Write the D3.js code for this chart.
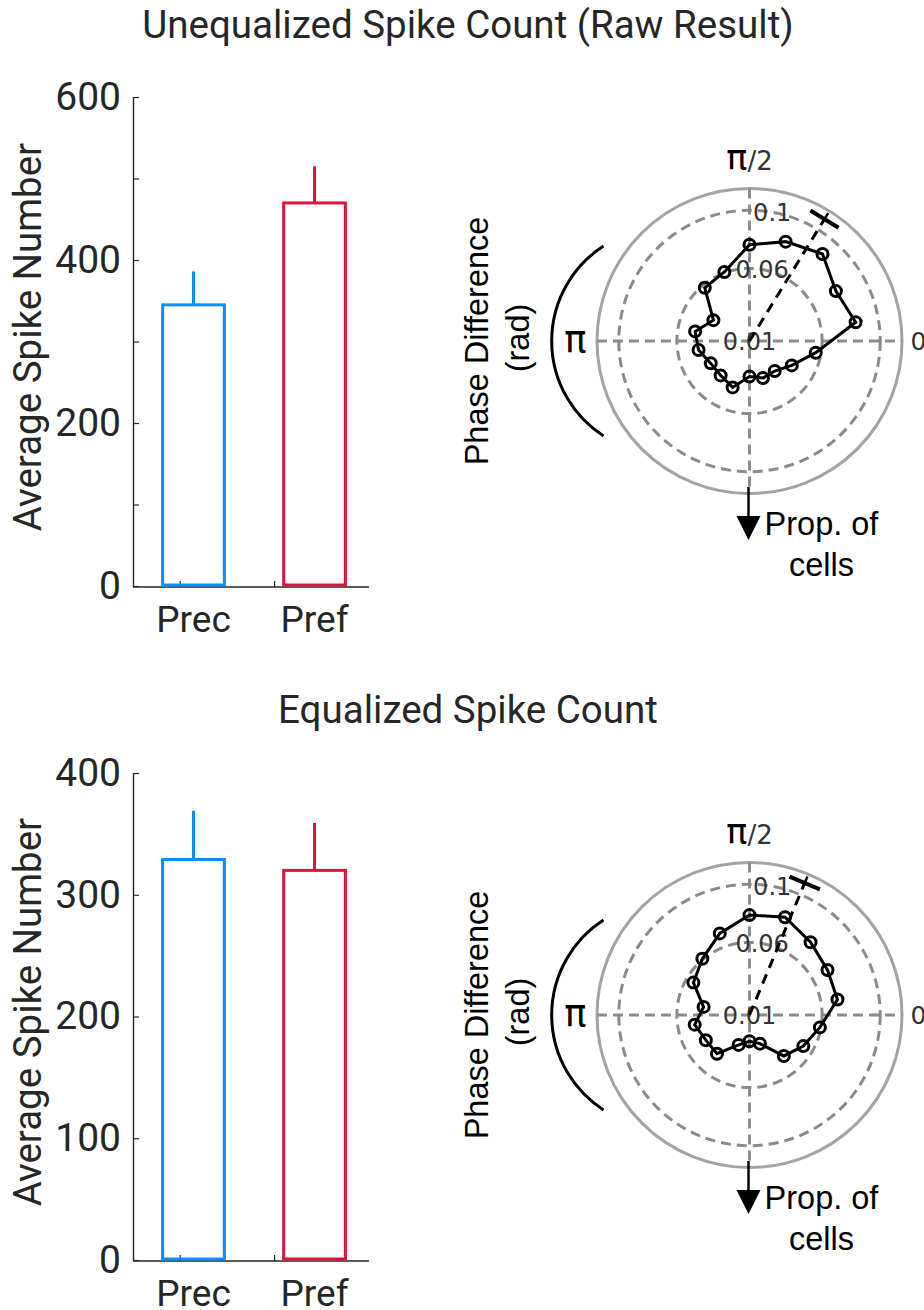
<!DOCTYPE html>
<html><head><meta charset="utf-8">
<script src="https://cdn.jsdelivr.net/npm/d3@7"></script>
<style>body{margin:0;background:#fff}</style></head>
<body><svg id="c" width="924" height="1310"></svg>
<script>
// ---------- data ----------
const titles = ["Unequalized Spike Count (Raw Result)", "Equalized Spike Count"];
const categories = ["Prec", "Pref"];
const colors = ["#0a8cff", "#dc143c"];
const meanTop = [345, 470];
const errTop = [386, 515];
const meanBottom = [329, 320];
const errBottom = [369, 359];
const yTicksTop = [0, 100, 200, 300, 400, 500, 600];
const yLabelsTop = [0, 200, 400, 600];
const yTicksBottom = [0, 100, 200, 300, 400];
const yLabelsBottom = [0, 100, 200, 300, 400];
const xTickPos = [0.89, 1.67];
const yTitle = "Average Spike Number";

const binCentersDeg = [10, 30, 50, 70, 90, 110, 130, 150, 170, 190, 210, 230, 250, 270, 290, 310, 330, 350];
const propTop = [0.0842, 0.0787, 0.0882, 0.0828, 0.0763, 0.0606, 0.0579, 0.0387, 0.0480, 0.0456, 0.0408, 0.0409, 0.0440, 0.0345, 0.0371, 0.0370, 0.0436, 0.0563];
const propBottom = [0.0715, 0.0720, 0.0754, 0.0816, 0.0788, 0.0698, 0.0605, 0.0546, 0.0421, 0.0483, 0.0447, 0.0448, 0.0319, 0.0281, 0.0310, 0.0468, 0.0528, 0.0592];
const meanDirTopDeg = 58.4;
const meanDirBottomDeg = 67.3;
const meanLen = 0.1085;
const rTicks = [0.01, 0.06, 0.1];
const rTickLabels = ["0.01", "0.06", "0.1"];
const rLim = [0.01, 0.115];

// ---------- drawing ----------
const svg = d3.select("#c");
const TXT = "#262626";

function title(text, y) {
  svg.append("text").attr("x", 468).attr("y", y).attr("dy", "0.35em")
    .attr("text-anchor", "middle").attr("font-family", "Roboto").attr("font-size", 38.5)
    .attr("fill", TXT).text(text);
}

function barChart(yTop, yBot, maxV, ticks, labels, means, errs, titleCY) {
  const g = svg.append("g");
  const x = d3.scaleLinear().domain([0.5, 2.45]).range([133, 369]);
  const y = d3.scaleLinear().domain([0, maxV]).range([yBot, yTop]);
  const ax = g.append("g").attr("transform", "translate(133,0)")
    .call(d3.axisLeft(y).tickValues(ticks).tickSizeInner(-6).tickSizeOuter(0).tickPadding(12)
      .tickFormat(d => labels.includes(d) ? d : ""));
  ax.select(".domain").attr("stroke", TXT).attr("stroke-width", 1.4);
  ax.selectAll(".tick line").attr("stroke", TXT).attr("stroke-width", 1.2);
  ax.selectAll(".tick text").attr("font-family", "Roboto").attr("font-size", 39).attr("fill", TXT);
  // x axis
  g.append("line").attr("x1", x(0.5)).attr("x2", x(2.45)).attr("y1", yBot + 1).attr("y2", yBot + 1)
    .attr("stroke", TXT).attr("stroke-width", 1.4);
  g.selectAll(".xt").data(xTickPos).join("line")
    .attr("x1", d => x(d)).attr("x2", d => x(d)).attr("y1", yBot + 1).attr("y2", yBot - 5)
    .attr("stroke", TXT).attr("stroke-width", 1.2);
  const w = 0.51 * (x(1) - x(0));
  // error bars
  g.selectAll(".err").data(means).join("line")
    .attr("x1", (d, i) => x(i + 1)).attr("x2", (d, i) => x(i + 1))
    .attr("y1", d => y(d)).attr("y2", (d, i) => y(errs[i]))
    .attr("stroke", (d, i) => colors[i]).attr("stroke-width", 3);
  g.selectAll(".bar").data(means).join("rect")
    .attr("x", (d, i) => x(i + 1) - w / 2).attr("width", w)
    .attr("y", d => y(d)).attr("height", d => y(0) - y(d) - 1)
    .attr("fill", "none").attr("stroke", (d, i) => colors[i]).attr("stroke-width", 3);
  g.selectAll(".cat").data(categories).join("text")
    .attr("x", (d, i) => x(i + 1)).attr("y", yBot + 33).attr("dy", "0.35em")
    .attr("text-anchor", "middle").attr("font-family", "Roboto").attr("font-size", 37)
    .attr("fill", TXT).text(d => d);
  g.append("text").attr("transform", `translate(28,${titleCY}) rotate(-90)`).attr("dy", "0.35em")
    .attr("text-anchor", "middle").attr("font-family", "Roboto").attr("font-size", 38.5)
    .attr("fill", TXT).text(yTitle);
}

function polar(cx, cy, props, meanDeg) {
  const g = svg.append("g").attr("transform", `translate(${cx},${cy})`);
  const r = d3.scaleLinear().domain(rLim).range([0, 152.5]);
  const R = r(rLim[1]);
  const rad = d => d * Math.PI / 180;
  const px = (deg, v) => r(v) * Math.cos(rad(deg));
  const py = (deg, v) => -r(v) * Math.sin(rad(deg));
  // grid
  g.append("circle").attr("r", R).attr("fill", "none").attr("stroke", "#a3a3a3").attr("stroke-width", 3);
  g.selectAll(".gc").data(rTicks.slice(1)).join("circle").attr("r", d => r(d))
    .attr("fill", "none").attr("stroke", "#8a8a8a").attr("stroke-width", 3).attr("stroke-dasharray", "10,6");
  g.append("line").attr("x1", -R).attr("x2", R).attr("y1", 0).attr("y2", 0)
    .attr("stroke", "#8a8a8a").attr("stroke-width", 3).attr("stroke-dasharray", "10,6");
  g.append("line").attr("x1", 0).attr("x2", 0).attr("y1", -R).attr("y2", R)
    .attr("stroke", "#8a8a8a").attr("stroke-width", 3).attr("stroke-dasharray", "10,6");
  // radial tick labels
  g.selectAll(".rl").data(rTicks).join("text")
    .attr("x", d => px(80, d)).attr("y", d => py(80, d)).attr("dy", "0.36em")
    .attr("text-anchor", "middle").attr("font-family", "DejaVu Sans").attr("font-size", 24)
    .attr("fill", "#333").text((d, i) => rTickLabels[i]);
  // data polygon
  const pts = binCentersDeg.map((d, i) => ({ a: d, v: props[i] }));
  const line = d3.lineRadial().angle(d => Math.PI / 2 - rad(d.a)).radius(d => r(d.v)).curve(d3.curveLinearClosed);
  g.append("path").attr("d", line(pts)).attr("fill", "none").attr("stroke", "#000").attr("stroke-width", 3);
  g.selectAll(".pt").data(pts).join("circle")
    .attr("cx", d => px(d.a, d.v)).attr("cy", d => py(d.a, d.v)).attr("r", 5.5)
    .attr("fill", "none").attr("stroke", "#000").attr("stroke-width", 3);
  // mean direction
  g.append("line").attr("x1", 0).attr("y1", 0).attr("x2", px(meanDeg, meanLen)).attr("y2", py(meanDeg, meanLen))
    .attr("stroke", "#000").attr("stroke-width", 3).attr("stroke-dasharray", "10,7");
  const mx = px(meanDeg, meanLen), my = py(meanDeg, meanLen);
  const ux = Math.cos(rad(meanDeg)), uy = -Math.sin(rad(meanDeg));
  const hl = 16.5;
  g.append("line").attr("x1", mx - uy * hl).attr("y1", my + ux * hl).attr("x2", mx + uy * hl).attr("y2", my - ux * hl)
    .attr("stroke", "#000").attr("stroke-width", 4);
  g.append("line").attr("x1", mx).attr("y1", my).attr("x2", mx + ux * 7).attr("y2", my + uy * 7)
    .attr("stroke", "#000").attr("stroke-width", 2.5);
  // angle labels
  const t = g.append("text").attr("x", 0).attr("y", -177).attr("dy", "0.36em").attr("text-anchor", "middle")
    .attr("font-family", "DejaVu Sans").attr("fill", "#000");
  t.append("tspan").attr("font-size", 35).text("π");
  t.append("tspan").attr("font-size", 26).attr("fill", "#333").text("/2");
  g.append("text").attr("x", 169).attr("y", 0).attr("dy", "0.36em").attr("text-anchor", "middle")
    .attr("font-family", "DejaVu Sans").attr("font-size", 25).attr("fill", "#333").text("0");
  g.append("text").attr("x", -174).attr("y", 0).attr("dy", "0.3em").attr("text-anchor", "middle")
    .attr("font-family", "DejaVu Sans").attr("font-size", 37).attr("fill", "#000").text("π");
  g.append("path").attr("d", `M${-146},${-95} A113,113 0 0 0 ${-146},${95}`)
    .attr("fill", "none").attr("stroke", "#000").attr("stroke-width", 3);
  g.append("text").attr("transform", "translate(-273,0) rotate(-90)").attr("dy", "0.35em")
    .attr("text-anchor", "middle").attr("font-family", "Liberation Sans").attr("font-size", 32.5)
    .attr("fill", "#000").text("Phase Difference");
  g.append("text").attr("transform", "translate(-232,-3) rotate(-90)").attr("dy", "0.35em")
    .attr("text-anchor", "middle").attr("font-family", "Liberation Sans").attr("font-size", 32.5)
    .attr("fill", "#000").text("(rad)");
  // prop arrow
  g.append("line").attr("x1", -1).attr("x2", -1).attr("y1", 146).attr("y2", 180)
    .attr("stroke", "#000").attr("stroke-width", 2.5);
  g.append("path").attr("d", "M-13,175 L11,175 L-1,199 Z").attr("fill", "#000");
  g.append("text").attr("x", 72).attr("y", 183).attr("dy", "0.35em").attr("text-anchor", "middle")
    .attr("font-family", "Liberation Sans").attr("font-size", 32.5).attr("fill", "#000").text("Prop. of");
  g.append("text").attr("x", 72).attr("y", 224).attr("dy", "0.35em").attr("text-anchor", "middle")
    .attr("font-family", "Liberation Sans").attr("font-size", 32.5).attr("fill", "#000").text("cells");
}

title(titles[0], 25);
title(titles[1], 710);
barChart(97, 586, 600, yTicksTop, yLabelsTop, meanTop, errTop, 337);
barChart(773, 1260, 400, yTicksBottom, yLabelsBottom, meanBottom, errBottom, 1012);
polar(749.5, 341, propTop, meanDirTopDeg);
polar(749.5, 1015, propBottom, meanDirBottomDeg);
</script></body></html>
